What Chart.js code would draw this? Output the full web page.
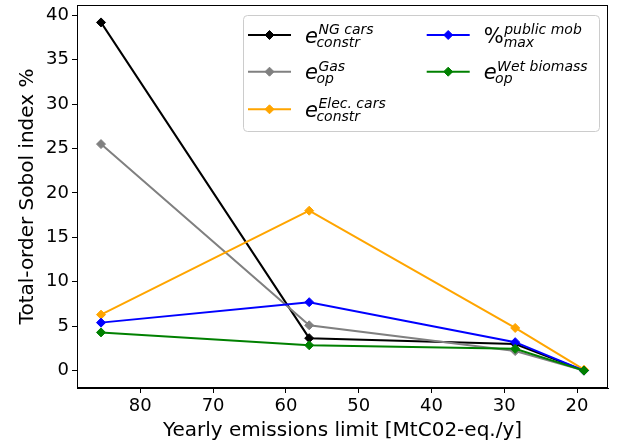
<!DOCTYPE html>
<html>
<head>
<meta charset="utf-8">
<script src="https://cdn.jsdelivr.net/npm/chart.js@4"></script>
<style>
  html, body { margin: 0; padding: 0; background: #fff; }
  #graph-area { width: 619px; height: 448px; }
</style>
</head>
<body>
<div id="graph-area"><canvas id="sobolChart" width="619" height="448"></canvas></div>
<script>
// x positions: yearly emissions limit [MtCO2-eq./y]
const emissionLimits = [85.4, 56.8, 28.5, 19.05];

// total-order Sobol index %, one array per parameter
const ngCarsConstr = [39.2, 3.65, 3.0, 0.0];
const gasOp = [25.5, 5.1, 2.2, 0.0];
const elecCarsConstr = [6.3, 18.0, 4.8, 0.1];
const publicMobMax = [5.4, 7.7, 3.2, 0.0];
const wetBiomassOp = [4.3, 2.85, 2.45, 0.0];

const xTickValues = [80, 70, 60, 50, 40, 30, 20];
const yTickValues = [0, 5, 10, 15, 20, 25, 30, 35, 40];

// legend labels (math text split into base, superscript, subscript)
const labelBases = ['e', 'e', 'e', '%', 'e'];
const labelSups = ['NG cars', 'Gas', 'Elec. cars', 'public mob', 'Wet biomass'];
const labelSubs = ['constr', 'op', 'constr', 'max', 'op'];

const seriesValues = [ngCarsConstr, gasOp, elecCarsConstr, publicMobMax, wetBiomassOp];
const seriesColors = ['#000000', '#808080', '#ffa500', '#0000ff', '#008000'];

const FONT = '"DejaVu Sans", "Liberation Sans", sans-serif';

function drawDiamond(ctx, x, y, r, color) {
    ctx.beginPath();
    ctx.moveTo(x - r, y);
    ctx.lineTo(x, y - r);
    ctx.lineTo(x + r, y);
    ctx.lineTo(x, y + r);
    ctx.closePath();
    ctx.fillStyle = color;
    ctx.fill();
    ctx.strokeStyle = color;
    ctx.lineWidth = 1;
    ctx.stroke();
}

// frame around the plot area (matplotlib spines)
const framePlugin = {
    id: 'frame',
    afterDatasetsDraw(chart) {
        const a = chart.chartArea;
        const ctx = chart.ctx;
        ctx.save();
        ctx.strokeStyle = '#000';
        ctx.lineWidth = 1;
        ctx.strokeRect(Math.round(a.left) + 0.5, Math.round(a.top) + 0.5,
            Math.round(a.right - a.left) - 1, Math.round(a.bottom - a.top) - 1);
        ctx.restore();
    }
};

// legend with super/subscripts, drawn on the canvas
const mathLegendPlugin = {
    id: 'mathLegend',
    afterDraw(chart) {
        const ctx = chart.ctx;
        const a = chart.chartArea;
        const boxL = a.left + 166, boxT = a.top + 10, boxW = 356, boxH = 116;
        ctx.save();
        ctx.beginPath();
        ctx.roundRect(boxL + 0.5, boxT + 0.5, boxW, boxH, 4);
        ctx.fillStyle = 'rgba(255,255,255,0.8)';
        ctx.fill();
        ctx.strokeStyle = '#cccccc';
        ctx.lineWidth = 1;
        ctx.stroke();

        const rowY = [20, 56.7, 94.3];
        const colX = [5, 183.7];
        chart.data.datasets.forEach((ds, i) => {
            const col = i < 3 ? 0 : 1;
            const row = i < 3 ? i : i - 3;
            const x0 = boxL + colX[col];
            const y = boxT + rowY[row];
            ctx.beginPath();
            ctx.moveTo(x0, y);
            ctx.lineTo(x0 + 43, y);
            ctx.strokeStyle = ds.borderColor;
            ctx.lineWidth = 2;
            ctx.stroke();
            drawDiamond(ctx, x0 + 21.5, y, 4.5, ds.borderColor);

            const tx = x0 + 57;
            const base = labelBases[i];
            ctx.fillStyle = '#000';
            ctx.textAlign = 'left';
            ctx.textBaseline = 'alphabetic';
            ctx.font = (base === '%' ? '' : 'italic ') + '21px ' + FONT;
            ctx.fillText(base, tx, y + 7.5);
            const bw = ctx.measureText(base).width;
            ctx.font = 'italic 14px ' + FONT;
            ctx.fillText(labelSups[i], tx + bw + 0.5, y - 1);
            ctx.fillText(labelSubs[i], tx + bw - (base === '%' ? 0 : 1.5), y + 11.5);
        });
        ctx.restore();
    }
};

const datasets = seriesValues.map((vals, i) => ({
    label: labelBases[i] + '_' + labelSubs[i] + '^' + labelSups[i],
    data: vals.map((v, j) => ({ x: emissionLimits[j], y: v })),
    borderColor: seriesColors[i],
    backgroundColor: seriesColors[i],
    borderWidth: 2,
    pointStyle: 'rectRot',
    pointRadius: 4.5,
    pointBorderWidth: 1,
    order: seriesValues.length - i,
    tension: 0
}));

const tickFont = { family: FONT, size: 18 };
const titleFont = { family: FONT, size: 20 };

const ctx = document.getElementById('sobolChart').getContext('2d');
new Chart(ctx, {
    type: 'line',
    data: { datasets: datasets },
    options: {
        responsive: false,
        animation: false,
        layout: { padding: { left: 0, right: 11, top: 5, bottom: 0 }, autoPadding: false },
        plugins: {
            legend: { display: false },
            tooltip: { enabled: false }
        },
        scales: {
            x: {
                type: 'linear',
                reverse: true,
                min: 15.75,
                max: 88.7,
                afterBuildTicks: (scale) => { scale.ticks = xTickValues.map(v => ({ value: v })); },
                afterFit: (scale) => {
                    scale.height = 60;
                    scale.paddingLeft = 0;
                    scale.paddingRight = 0;
                },
                ticks: { color: '#000', font: tickFont, padding: 3, maxRotation: 0 },
                grid: { drawOnChartArea: false, drawTicks: true, tickLength: 5, color: '#000', tickWidth: 1 },
                border: { display: true, color: '#000', width: 1 },
                title: {
                    display: true,
                    text: 'Yearly emissions limit [MtC02-eq./y]',
                    color: '#000',
                    font: titleFont,
                    padding: { top: 0, bottom: 5 }
                }
            },
            y: {
                type: 'linear',
                min: -1.96,
                max: 41.16,
                afterBuildTicks: (scale) => { scale.ticks = yTickValues.map(v => ({ value: v })); },
                afterFit: (scale) => {
                    scale.width = 77;
                    scale.paddingTop = 0;
                    scale.paddingBottom = 0;
                },
                ticks: { color: '#000', font: tickFont, padding: 3 },
                grid: { drawOnChartArea: false, drawTicks: true, tickLength: 5, color: '#000', tickWidth: 1 },
                border: { display: true, color: '#000', width: 1 },
                title: {
                    display: true,
                    text: 'Total-order Sobol index %',
                    color: '#000',
                    font: titleFont,
                    padding: { top: 16, bottom: 0 }
                }
            }
        }
    },
    plugins: [framePlugin, mathLegendPlugin]
});
</script>
</body>
</html>
